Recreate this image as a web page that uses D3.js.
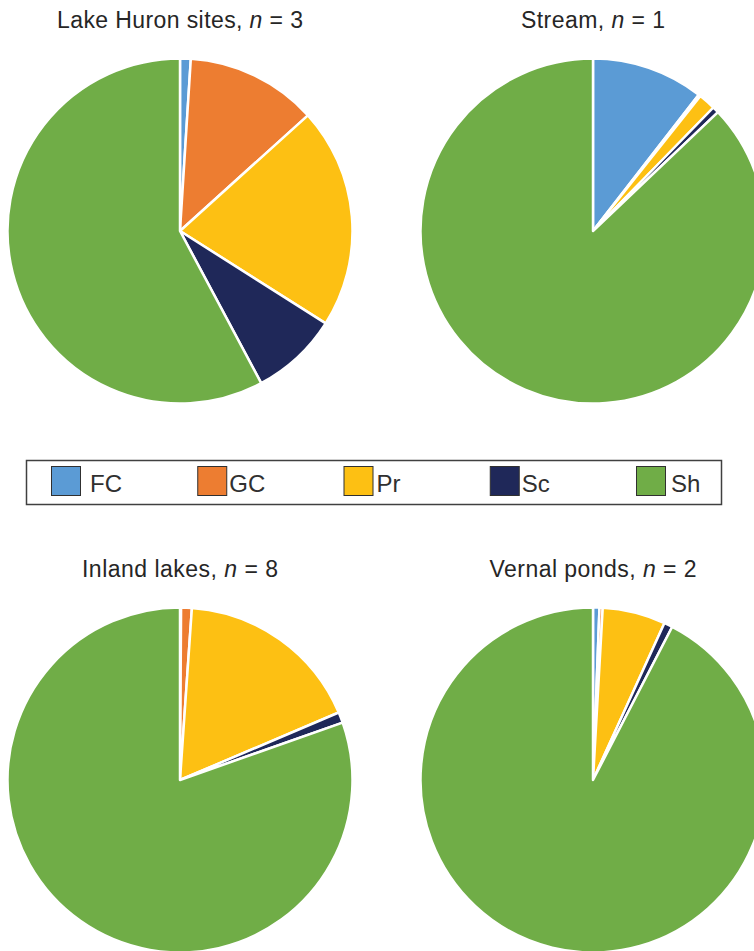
<!DOCTYPE html>
<html>
<head>
<meta charset="utf-8">
<script src="https://cdn.jsdelivr.net/npm/d3@7/dist/d3.min.js"></script>
<style>
  html, body { margin: 0; padding: 0; background: #fff; overflow: hidden; }
  svg { display: block; }
</style>
</head>
<body>
<svg id="chart" width="754" height="951"></svg>
<script>
// Functional feeding groups (share of individuals, %)
const groups = ["FC", "GC", "Pr", "Sc", "Sh"];
const groupColors = ["#5B9BD5", "#ED7D31", "#FDC013", "#1F2859", "#70AD47"];

// Habitat panels
const habitats = ["Lake Huron sites", "Stream", "Inland lakes", "Vernal ponds"];
const siteCounts = [3, 1, 8, 2];

// Percent composition per habitat, in group order FC, GC, Pr, Sc, Sh
const lakeHuron   = [1.0, 12.3, 20.7, 8.2, 57.8];
const stream      = [10.5, 0.2, 1.6, 0.6, 87.1];
const inlandLakes = [0.1, 1.0, 17.5, 1.0, 80.4];
const vernalPonds = [0.6, 0.3, 5.9, 0.8, 92.4];

const series = [lakeHuron, stream, inlandLakes, vernalPonds];

const svg = d3.select("#chart");

const color = d3.scaleOrdinal().domain(groups).range(groupColors);

// Panel grid: two columns, two rows
const colX = d3.scalePoint().domain([0, 1]).range([180, 593]);
const rowY = d3.scalePoint().domain([0, 1]).range([231, 780]);
const titleY = [28, 577];
const titleWidths = [246, 144, 196, 207];
const radius = 172.5;

const pie = d3.pie().sort(null).value(d => d.value).startAngle(0).endAngle(2 * Math.PI);
const arc = d3.arc().innerRadius(0).outerRadius(radius);

series.forEach((vals, i) => {
  const col = i % 2, row = Math.floor(i / 2);
  const cx = colX(col), cy = rowY(row);
  const data = groups.map((g, k) => ({ group: g, value: vals[k] }));

  const g = svg.append("g").attr("transform", `translate(${cx},${cy})`);
  g.selectAll("path")
    .data(pie(data))
    .join("path")
    .attr("d", arc)
    .attr("fill", d => color(d.data.group))
    .attr("stroke", "#fff")
    .attr("stroke-width", 2.5)
    .attr("stroke-linejoin", "round");

  const t = svg.append("text")
    .attr("x", cx)
    .attr("y", titleY[row])
    .attr("text-anchor", "middle")
    .attr("font-family", "Liberation Sans, Arial, sans-serif")
    .attr("font-size", 23)
    .attr("fill", "#262626")
    .attr("textLength", titleWidths[i])
    .attr("lengthAdjust", "spacing");
  t.append("tspan").text(habitats[i] + ", ");
  t.append("tspan").attr("font-style", "italic").text("n");
  t.append("tspan").text(" = " + siteCounts[i]);
});

// Legend
const legend = svg.append("g");
legend.append("rect")
  .attr("x", 26.5).attr("y", 460.5)
  .attr("width", 695).attr("height", 44)
  .attr("fill", "#fff")
  .attr("stroke", "#404040")
  .attr("stroke-width", 1.5);

const legX = d3.scaleLinear().domain([0, groups.length - 1]).range([51, 636]);
const labelGap = [9, 2, 3, 2, 5];
const item = legend.selectAll("g.item")
  .data(groups)
  .join("g")
  .attr("class", "item")
  .attr("transform", (d, i) => `translate(${legX(i)},466)`);

item.append("rect")
  .attr("x", 0.5).attr("y", 0.5)
  .attr("width", 29).attr("height", 29)
  .attr("fill", d => color(d))
  .attr("stroke", "#303030")
  .attr("stroke-width", 1);

item.append("text")
  .attr("x", (d, i) => 30 + labelGap[i])
  .attr("y", 26)
  .attr("font-family", "Liberation Sans, Arial, sans-serif")
  .attr("font-size", 24)
  .attr("fill", "#303030")
  .text(d => d);
</script>
</body>
</html>
